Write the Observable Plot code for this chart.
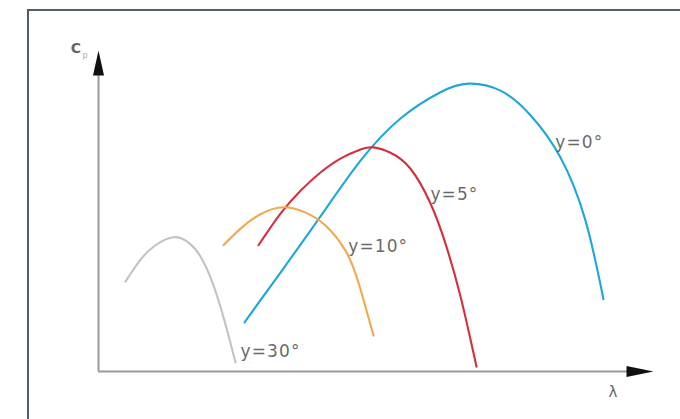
<!DOCTYPE html>
<html>
<head>
<meta charset="utf-8">
<script src="https://cdn.jsdelivr.net/npm/d3@7"></script>
<script src="https://cdn.jsdelivr.net/npm/@observablehq/plot@0.6"></script>
<style>
  html, body { margin: 0; padding: 0; background: #fff; }
  #wrap { position: relative; width: 680px; height: 419px; overflow: hidden; }
  #frame { position: absolute; left: 27px; top: 9px; width: 700px; height: 500px;
           border-left: 2px solid #4f5d67; border-top: 2px solid #4f5d67; }
  #chart { position: absolute; left: 0; top: 0; }
  #chart svg text { letter-spacing: 1.1px; }
</style>
</head>
<body>
<div id="wrap"><div id="frame"></div><div id="chart"></div></div>
<script>
// Tip speed ratio (λ) and power coefficient (Cp) for several yaw angles
const lambda0 = [2.631, 3.279, 4.000, 4.721, 5.441, 6.162, 6.667, 7.243, 7.784, 8.324, 8.775, 9.099];
const cp0     = [0.092, 0.185, 0.290, 0.394, 0.473, 0.522, 0.538, 0.525, 0.479, 0.400, 0.282, 0.135];

const lambda5 = [2.883, 3.279, 3.640, 4.000, 4.360, 4.721, 4.955, 5.261, 5.622, 5.982, 6.252, 6.523, 6.811];
const cp5     = [0.236, 0.295, 0.338, 0.372, 0.398, 0.415, 0.419, 0.409, 0.379, 0.314, 0.239, 0.140, 0.009];

const lambda10 = [2.252, 2.559, 2.919, 3.333, 3.730, 4.090, 4.450, 4.685, 4.955];
const cp10     = [0.236, 0.267, 0.294, 0.307, 0.297, 0.273, 0.226, 0.166, 0.067];

const lambda30 = [0.486, 0.757, 1.027, 1.351, 1.622, 1.838, 2.054, 2.270, 2.468];
const cp30     = [0.168, 0.209, 0.236, 0.251, 0.241, 0.215, 0.166, 0.095, 0.017];

const seriesNames  = ["y=0°", "y=5°", "y=10°", "y=30°"];
const seriesColors = ["#1ea7d8", "#d42f3c", "#f2a84c", "#c2c2c2"];
const labelLambda  = [8.23, 5.98, 4.50, 2.56];
const labelCp      = [0.428, 0.331, 0.234, 0.038];

const xLabel = "λ";
const yLabel = "C";
const yLabelSub = "p";

const xMax = 10, yMax = 0.6;

const curves = [[lambda0, cp0], [lambda5, cp5], [lambda10, cp10], [lambda30, cp30]];
const rows = curves.flatMap(([xs, ys], i) => xs.map((x, j) => ({series: seriesNames[i], lambda: x, cp: ys[j]})));
const labels = seriesNames.map((s, i) => ({series: s, lambda: labelLambda[i], cp: labelCp[i]}));

const arrowX = {draw(ctx) { ctx.moveTo(0, 0); ctx.lineTo(-27, -5.5); ctx.lineTo(-27, 5.5); ctx.closePath(); }};
const arrowY = {draw(ctx) { ctx.moveTo(0, 0); ctx.lineTo(-5.5, 25); ctx.lineTo(5.5, 25); ctx.closePath(); }};

const chart = Plot.plot({
  width: 680,
  height: 419,
  marginLeft: 98,
  marginRight: 27,
  marginTop: 50,
  marginBottom: 48,
  style: {background: "transparent", overflow: "visible"},
  x: {domain: [0, xMax], axis: null},
  y: {domain: [0, yMax], axis: null},
  color: {domain: seriesNames, range: seriesColors},
  marks: [
    Plot.ruleY([0], {x1: 0, x2: xMax - 0.4, stroke: "#9a9a9a", strokeWidth: 2}),
    Plot.ruleX([0], {y1: 0, y2: yMax - 0.03, stroke: "#9a9a9a", strokeWidth: 2}),
    Plot.dot([{x: xMax, y: 0}], {x: "x", y: "y", symbol: arrowX, fill: "#111", stroke: "none", r: 5}),
    Plot.dot([{x: 0, y: yMax}], {x: "x", y: "y", symbol: arrowY, fill: "#111", stroke: "none", r: 5}),
    Plot.line(rows, {x: "lambda", y: "cp", z: "series", stroke: "series", strokeWidth: 2.1, curve: "natural"}),
    Plot.text(labels, {x: "lambda", y: "cp", text: "series", textAnchor: "start", fill: "#6a6a6a",
                       fontSize: 17, fontFamily: "DejaVu Sans"}),
    Plot.text([yLabel], {x: 0, y: yMax, dx: -22, dy: -2, text: d => d, fill: "#666", fontSize: 14, fontWeight: "bold", fontFamily: "DejaVu Sans"}),
    Plot.text([yLabelSub], {x: 0, y: yMax, dx: -13, dy: 5, text: d => d, fill: "#aaa", fontSize: 8, fontFamily: "DejaVu Sans"}),
    Plot.text([xLabel], {x: xMax, y: 0, dx: -40, dy: 21, text: d => d, fill: "#666", fontSize: 15, fontFamily: "DejaVu Sans"})
  ]
});
document.getElementById("chart").appendChild(chart);
</script>
</body>
</html>
